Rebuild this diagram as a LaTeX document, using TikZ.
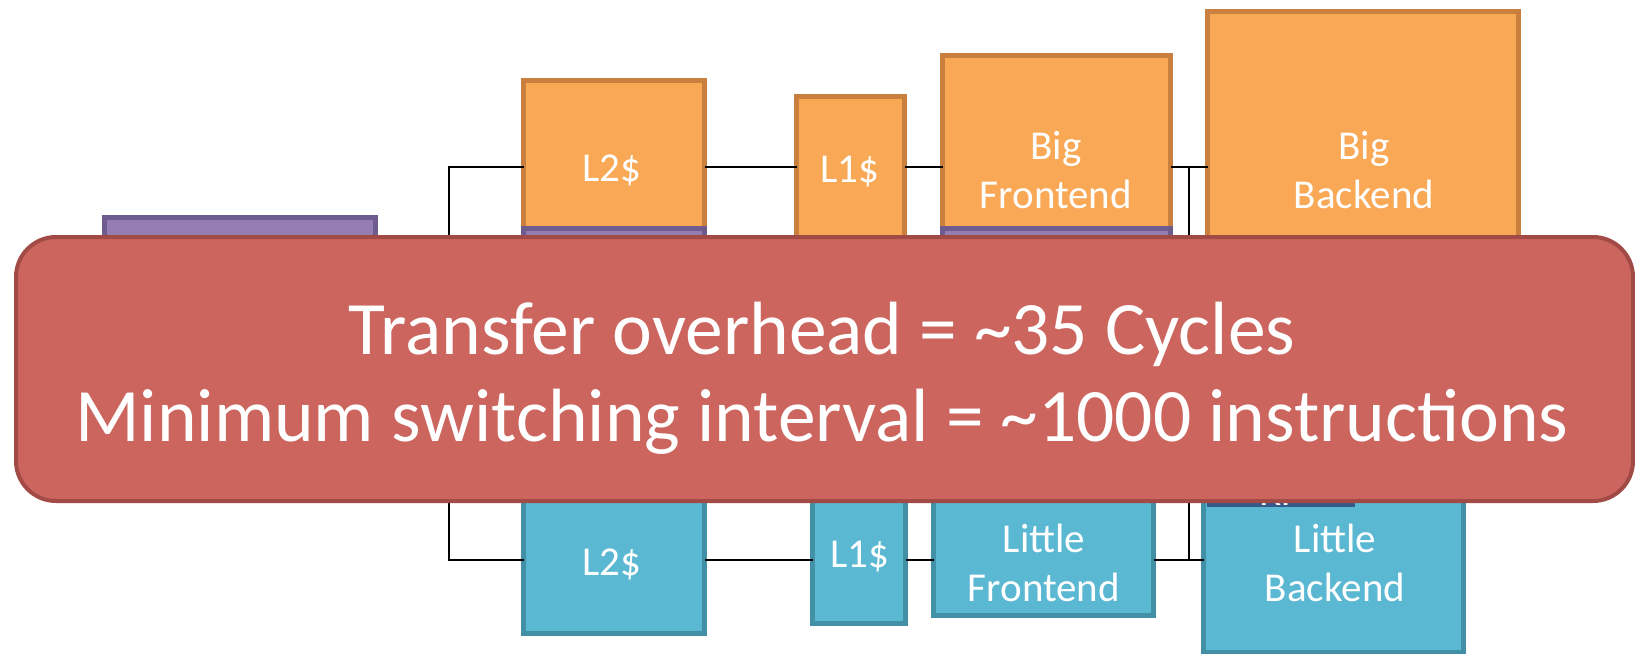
\documentclass[tikz,border=0pt]{standalone}
\usepackage{fontspec}
\setmainfont{Carlito}
\definecolor{orFill}{HTML}{F9A856}
\definecolor{orLine}{HTML}{C9803F}
\definecolor{blFill}{HTML}{5BB8D2}
\definecolor{blLine}{HTML}{4190A5}
\definecolor{puFill}{HTML}{957CB1}
\definecolor{puLine}{HTML}{6F5C8F}
\definecolor{dbFill}{HTML}{36598A}
\definecolor{rdFill}{HTML}{CC655E}
\definecolor{rdLine}{HTML}{A24B46}
\tikzset{
  unitbox/.style={draw, line width=5pt, inner sep=0pt, outer sep=0pt, anchor=north west},
  bigunit/.style={unitbox, fill=orFill, draw=orLine},
  littleunit/.style={unitbox, fill=blFill, draw=blLine},
  ctrlunit/.style={unitbox, fill=puFill, draw=puLine},
  rfunit/.style={unitbox, fill=dbFill, draw=dbFill},
  unitlabel/.style={text=white, align=center, inner sep=0pt, font=\fontsize{41}{49}\selectfont},
  wire/.style={draw=black, line width=1.8pt},
  banner/.style={draw=rdLine, fill=rdFill, line width=4pt, rounded corners=40pt, inner sep=0pt, anchor=north west},
  bannertext/.style={text=white, inner sep=0pt, anchor=base, font=\fontsize{75.5}{91}\selectfont}
}
\begin{document}
\begin{tikzpicture}[x=1pt, y=-1pt]
\useasboundingbox (0,0) rectangle (1635,653);

% left controller block (mostly hidden behind the banner)
\node[ctrlunit, minimum width=271pt, minimum height=100pt] (ctrl) at (104.5,217.5) {};

% big core (top row)
\node[bigunit, minimum width=181pt, minimum height=220pt] (L2t) at (523.5,80.5) {};
\node[bigunit, minimum width=108pt, minimum height=205pt] (L1t) at (796.5,96.5) {};
\node[bigunit, minimum width=228pt, minimum height=245pt] (BFt) at (942.5,55.5) {};
\node[bigunit, minimum width=311pt, minimum height=290pt] (BBt) at (1207.5,11.5) {};
\node[ctrlunit, minimum width=181pt, minimum height=70pt] (L2tc) at (523.5,228.5) {};
\node[ctrlunit, minimum width=228pt, minimum height=70pt] (BFtc) at (942.5,228.5) {};

\node[unitlabel] (L2tl) at (612,170) {L2\$};
\node[unitlabel] (L1tl) at (850,172) {L1\$};
\node[unitlabel] (BFtl) at (1056,170) {Big\\Frontend};
\node[unitlabel] (BBtl) at (1364,170) {Big\\Backend};

% little core (bottom row)
\node[littleunit, minimum width=181pt, minimum height=191pt] (L2b) at (523.5,442.5) {};
\node[littleunit, minimum width=93pt, minimum height=181pt] (L1b) at (812.5,442.5) {};
\node[littleunit, minimum width=220pt, minimum height=173pt] (LFb) at (933.5,442.5) {};
\node[littleunit, minimum width=260pt, minimum height=210pt] (LBb) at (1203.5,442.5) {};
\node[rfunit, minimum width=143pt, minimum height=83pt] (RFb) at (1209.5,421.5) {};
\node[text=white, inner sep=0pt, anchor=base, font=\fontsize{41}{49}\selectfont] (RFbl) at (1280,505) {RF};

\node[unitlabel] (L2bl) at (612,564) {L2\$};
\node[unitlabel] (L1bl) at (860,557) {L1\$};
\node[unitlabel] (LFbl) at (1044,563) {Little\\Frontend};
\node[unitlabel] (LBbl) at (1335,563) {Little\\Backend};

% interconnect
\coordinate (jl) at (449,167);
\coordinate (jlb) at (449,560);
\coordinate (jr) at (1189,167);
\coordinate (jrb) at (1189,560);
\draw[wire] (L2t.west |- jl) -- (jl) -- (jlb) -- (L2b.west |- jlb);
\draw[wire] (L2t.east |- jl) -- (L1t.west |- jl);
\draw[wire] (L1t.east |- jl) -- (BFt.west |- jl);
\draw[wire] (BFt.east |- jl) -- (BBt.west |- jl);
\draw[wire] (jr) -- (jrb);
\draw[wire] (L2b.east |- jlb) -- (L1b.west |- jlb);
\draw[wire] (L1b.east |- jlb) -- (LFb.west |- jlb);
\draw[wire] (LFb.east |- jlb) -- (LBb.west |- jlb);

% overlay banner
\node[banner, minimum width=1617pt, minimum height=264pt] (ban) at (14,235) {};
\node[bannertext] (t1) at (822,354.5) {Transfer overhead = \char`\~35 Cycles};
\node[bannertext] (t2) at (822,441.5) {Minimum switching interval = \char`\~1000 instructions};
\end{tikzpicture}
\end{document}
